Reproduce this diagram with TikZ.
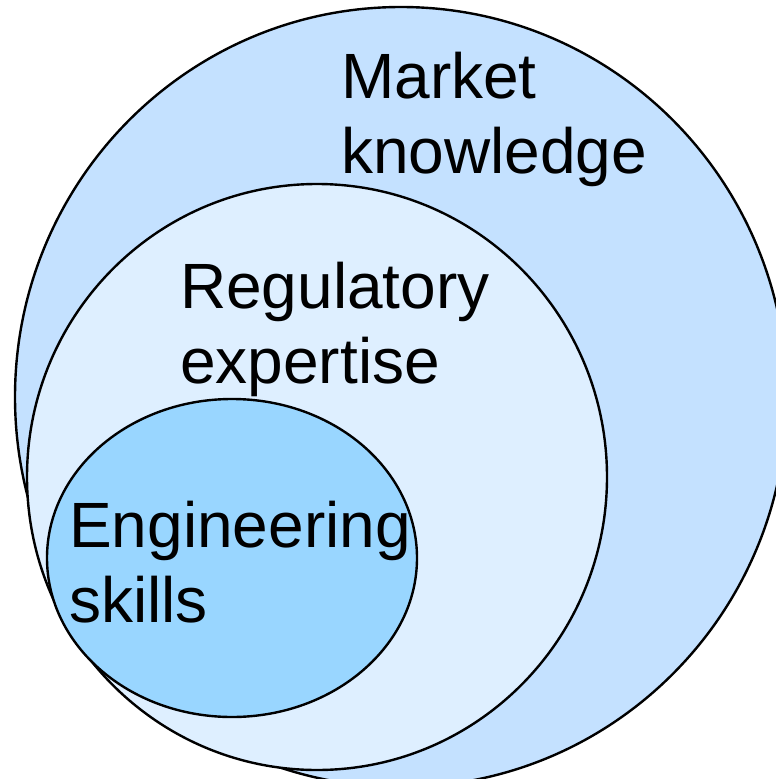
\documentclass[tikz,border=0pt]{standalone}
\usepackage{fontspec}
\setmainfont{Liberation Sans}
\definecolor{outerblue}{RGB}{196,225,255}
\definecolor{midblue}{RGB}{222,239,255}
\definecolor{innerblue}{RGB}{153,214,255}
\begin{document}
\begin{tikzpicture}[x=1pt,y=-1pt,
  ring/.style={draw=black,line width=2.4pt},
  lbl/.style={inner sep=0pt,anchor=north west,align=left,font=\fontsize{64}{75}\selectfont}]
\useasboundingbox (0,0) rectangle (776,779);
\fill[white] (0,0) rectangle (776,779);
\draw[ring,fill=outerblue] (401,397) ellipse [x radius=386, y radius=390];
\draw[ring,fill=midblue] (317,477) ellipse [x radius=290, y radius=293];
\draw[ring,fill=innerblue] (232,558) ellipse [x radius=185, y radius=159];
\node[lbl] (market) at (341,52) {Market\\knowledge};
\node[lbl] (reg) at (180,262) {Regulatory\\expertise};
\node[lbl] (eng) at (69,501) {Engineering\\skills};
\end{tikzpicture}
\end{document}
